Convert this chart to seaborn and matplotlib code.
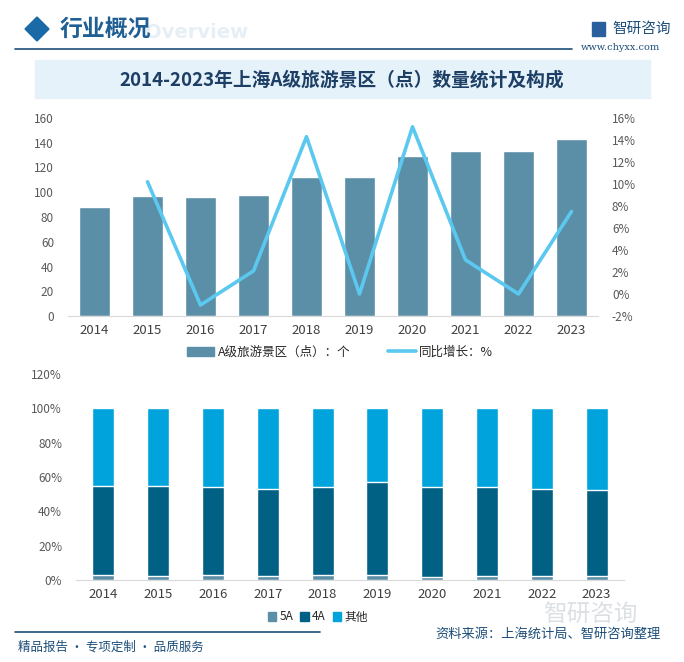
import numpy as np
import pandas as pd
import seaborn as sns
import matplotlib.pyplot as plt
from matplotlib.patches import Rectangle, Polygon
from matplotlib.lines import Line2D

# Data
years = ['2014', '2015', '2016', '2017', '2018', '2019', '2020', '2021', '2022', '2023']
scenic_count = [88, 97, 96, 98, 112, 112, 129, 133, 133, 143]
yoy_growth = [np.nan, 10.2, -1.0, 2.1, 14.3, 0.0, 15.2, 3.1, 0.0, 7.5]
share_5a = [3.2, 2.6, 3.1, 2.6, 2.7, 2.7, 2.0, 2.6, 2.6, 2.6]
share_4a = [51.8, 52.4, 51.1, 50.4, 51.5, 54.6, 52.2, 51.6, 50.4, 49.8]
share_other = [100 - a - b for a, b in zip(share_5a, share_4a)]

sns.set_style('white')
plt.rcParams['font.family'] = ['Noto Sans CJK SC', 'DejaVu Sans']

W, H = 684, 662
fig = plt.figure(figsize=(W / 100, H / 100), dpi=100)


def box(x0, y0, x1, y1):
    # pixel box -> figure coords
    return [x0 / W, 1 - y1 / H, (x1 - x0) / W, (y1 - y0) / H]


dark = '#1d4e79'

# Header
fig.text(197 / W, 1 - 33 / H, 'Overview', fontsize=14, fontweight='bold',
         color='#e6eff6', ha='center', va='center', family='DejaVu Sans')
fig.patches.append(Polygon([[25 / W, 1 - 29 / H], [37 / W, 1 - 17 / H], [49 / W, 1 - 29 / H],
                            [37 / W, 1 - 41 / H]], closed=True, transform=fig.transFigure,
                           color='#1a6aa8'))
fig.text(60 / W, 1 - 29 / H, '行业概况', fontsize=16.5, fontweight='bold', color='#1f5f94',
         va='center')
fig.add_artist(Line2D([15 / W, 572 / W], [1 - 49 / H, 1 - 49 / H], color=dark, lw=1.2))
fig.text(612 / W, 1 - 29 / H, '智研咨询', fontsize=10.5, color='#1d4e79', va='center')
fig.patches.append(Rectangle((592 / W, 1 - 36 / H), 13 / W, 14 / H, transform=fig.transFigure,
                             color='#2a5f9e'))
fig.text(620 / W, 1 - 48 / H, 'www.chyxx.com', fontsize=7, color='#1d4e79', va='center',
         ha='center', family='DejaVu Serif')

# Title band
fig.patches.append(Rectangle((35 / W, 1 - 98 / H), 615 / W, 38 / H, transform=fig.transFigure,
                             color='#e6f2fa', zorder=0))
fig.text(342 / W, 1 - 80 / H, '2014-2023年上海A级旅游景区（点）数量统计及构成', fontsize=13.5,
         fontweight='bold', color='#1d3f66', ha='center', va='center')

# Top chart: bars + growth line
ax1 = fig.add_axes(box(68, 118, 598, 316))
top_df = pd.DataFrame({'year': years, 'count': scenic_count})
sns.barplot(data=top_df, x='year', y='count', color='#5b8fa8', width=0.57, saturation=1,
            ax=ax1)
ax1.set_ylim(0, 160)
ax1.set_yticks(range(0, 161, 20))
ax1.set_xlim(-0.5, 9.5)
ax1.set_xlabel('')
ax1.set_ylabel('')
for s in ['top', 'right', 'left']:
    ax1.spines[s].set_visible(False)
ax1.spines['bottom'].set_color('#d9d9d9')
ax1.tick_params(axis='y', labelsize=8.5, labelcolor='#595959', length=0, pad=10)
ax1.tick_params(axis='x', labelsize=9.5, labelcolor='#404040', length=0, pad=6)

ax2 = ax1.twinx()
line_df = pd.DataFrame({'pos': np.arange(len(years)), 'growth': yoy_growth}).dropna()
sns.lineplot(data=line_df, x='pos', y='growth', color='#5bc8f0', linewidth=2.6, ax=ax2)
ax2.set_ylim(-2, 16)
ax2.set_yticks(range(-2, 17, 2))
ax2.set_yticklabels([f'{v}%' for v in range(-2, 17, 2)])
ax2.set_xlim(-0.5, 9.5)
ax2.set_ylabel('')
for s in ['top', 'right', 'left', 'bottom']:
    ax2.spines[s].set_visible(False)
ax2.tick_params(axis='y', labelsize=8.5, labelcolor='#595959', length=0, pad=10)

handles = [Rectangle((0, 0), 1, 1, color='#5b8fa8'),
           Line2D([0], [0], color='#5bc8f0', lw=2.6)]
fig.legend(handles, ['A级旅游景区（点）：个', '同比增长：%'], loc='center',
           bbox_to_anchor=(340 / W, 1 - 352 / H), ncol=2, frameon=False, fontsize=9,
           handlelength=2.2, columnspacing=3, handletextpad=0.3)

# Bottom chart: stacked shares
ax3 = fig.add_axes(box(76, 374, 624, 580))
share_df = pd.DataFrame({'year': years, '5A': share_5a, '4A': share_4a, '其他': share_other})
share_df['c4'] = share_df['5A'] + share_df['4A']
share_df['c_all'] = share_df['c4'] + share_df['其他']
sns.barplot(data=share_df, x='year', y='c_all', color='#00a3dc', width=0.4, saturation=1,
            ax=ax3)
sns.barplot(data=share_df, x='year', y='c4', color='#006185', width=0.4, saturation=1, ax=ax3)
sns.barplot(data=share_df, x='year', y='5A', color='#5b8fa8', width=0.4, saturation=1, ax=ax3)
ax3.set_ylim(0, 120)
ax3.set_yticks(range(0, 121, 20))
ax3.set_yticklabels([f'{v}%' for v in range(0, 121, 20)])
ax3.set_xlim(-0.5, 9.5)
ax3.set_xlabel('')
ax3.set_ylabel('')
for s in ['top', 'right', 'left']:
    ax3.spines[s].set_visible(False)
ax3.spines['bottom'].set_color('#d9d9d9')
ax3.tick_params(axis='y', labelsize=8.5, labelcolor='#595959', length=0, pad=10)
ax3.tick_params(axis='x', labelsize=9.5, labelcolor='#404040', length=0, pad=6)

handles = [Rectangle((0, 0), 1, 1, color=c) for c in ['#5b8fa8', '#006185', '#00a3dc']]
fig.legend(handles, ['5A', '4A', '其他'], loc='center', bbox_to_anchor=(318 / W, 1 - 617 / H),
           ncol=3, frameon=False, fontsize=8.5, handlelength=0.7, handleheight=0.7,
           columnspacing=0.6, handletextpad=0.3)

# Watermark logo near the source line
fig.text(590 / W, 1 - 615 / H, '智研咨询', fontsize=17, color='#d3d9de', ha='center',
         va='center', alpha=0.8, zorder=0)

# Footer
fig.add_artist(Line2D([15 / W, 320 / W], [1 - 632 / H, 1 - 632 / H], color=dark, lw=1.2))
fig.text(18 / W, 1 - 647 / H, '精品报告 · 专项定制 · 品质服务', fontsize=9, color='#1d4e79',
         va='center')
fig.text(435 / W, 1 - 634 / H, '资料来源：上海统计局、智研咨询整理', fontsize=9.5,
         color='#1d4e79', va='center')

fig.savefig('out.png', dpi=100)
